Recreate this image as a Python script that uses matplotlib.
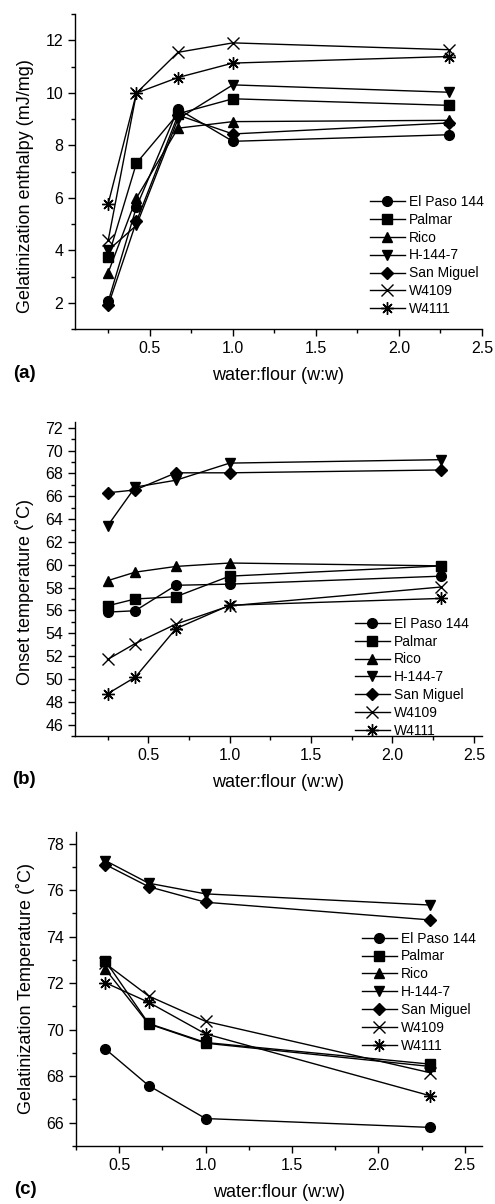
import matplotlib
matplotlib.use("Agg")
import matplotlib.pyplot as plt
from matplotlib.ticker import MultipleLocator

plt.rcParams.update({
    "font.family": ["Liberation Sans", "DejaVu Sans"],
    "font.size": 11.5,
    "axes.linewidth": 1.0,
    "xtick.direction": "out",
    "ytick.direction": "out",
    "xtick.major.size": 5,
    "ytick.major.size": 5,
    "xtick.minor.size": 3,
    "ytick.minor.size": 3,
    "xtick.major.width": 1.0,
    "ytick.major.width": 1.0,
    "xtick.minor.width": 1.0,
    "ytick.minor.width": 1.0,
})

varieties = ["El Paso 144", "Palmar", "Rico", "H-144-7", "San Miguel", "W4109", "W4111"]
markers = ["o", "s", "^", "v", "D", "x", (8, 2, 0)]
msizes = [7, 6.5, 7.5, 7.5, 6, 8, 9]

# (a) gelatinization enthalpy (mJ/mg)
x_a = [0.25, 0.42, 0.67, 1.0, 2.3]
enthalpy = {
    "El Paso 144": [2.05, 5.65, 9.38, 8.15, 8.40],
    "Palmar":      [3.75, 7.32, 9.20, 9.77, 9.52],
    "Rico":        [3.15, 5.99, 8.65, 8.90, 8.95],
    "H-144-7":     [4.00, 4.95, 9.00, 10.30, 10.02],
    "San Miguel":  [1.90, 5.10, 9.15, 8.43, 8.85],
    "W4109":       [4.38, 9.99, 11.54, 11.90, 11.64],
    "W4111":       [5.78, 9.99, 10.58, 11.13, 11.38],
}

# (b) onset temperature (C)
x_b = [0.25, 0.42, 0.67, 1.0, 2.3]
onset = {
    "El Paso 144": [55.85, 55.97, 58.2, 58.3, 59.0],
    "Palmar":      [56.4, 57.0, 57.2, 59.0, 59.9],
    "Rico":        [58.6, 59.35, 59.85, 60.15, 59.9],
    "H-144-7":     [63.4, 66.8, 67.4, 68.9, 69.2],
    "San Miguel":  [66.3, 66.55, 68.05, 68.05, 68.3],
    "W4109":       [51.7, 53.1, 54.8, 56.4, 58.05],
    "W4111":       [48.7, 50.15, 54.4, 56.45, 57.05],
}

# (c) gelatinization temperature (C)
x_c = [0.42, 0.67, 1.0, 2.3]
gel_temp = {
    "El Paso 144": [69.17, 67.6, 66.18, 65.8],
    "Palmar":      [72.96, 70.27, 69.45, 68.52],
    "Rico":        [72.6, 70.25, 69.42, 68.42],
    "H-144-7":     [77.27, 76.3, 75.84, 75.36],
    "San Miguel":  [77.1, 76.15, 75.48, 74.72],
    "W4109":       [72.85, 71.45, 70.36, 68.15],
    "W4111":       [72.02, 71.18, 69.82, 67.16],
}

W, H = 495, 1204
fig = plt.figure(figsize=(W / 100, H / 100), dpi=100)


def px_axes(left, right, top, bottom):
    return fig.add_axes([left / W, 1 - bottom / H, (right - left) / W, (bottom - top) / H])


def draw_panel(ax, x, data, xlim, ylim, ymaj, ylabel, ylab_y, leg_xy, tag):
    for name, m, ms in zip(varieties, markers, msizes):
        ax.plot(x, data[name], color="black", lw=1.0, marker=m, markersize=ms,
                markerfacecolor="black", markeredgecolor="black", markeredgewidth=1.0,
                label=name, clip_on=False)
    ax.set_xlim(*xlim)
    ax.set_ylim(*ylim)
    ax.xaxis.set_major_locator(MultipleLocator(0.5))
    ax.xaxis.set_minor_locator(MultipleLocator(0.25))
    ax.yaxis.set_major_locator(MultipleLocator(ymaj))
    ax.yaxis.set_minor_locator(MultipleLocator(ymaj / 2))
    for s in ("top", "right"):
        ax.spines[s].set_visible(False)
    ax.set_xlabel("water:flour (w:w)", fontsize=13)
    ax.xaxis.set_label_coords(0.5, -0.12)
    ax.set_ylabel(ylabel, fontsize=13)
    ax.yaxis.set_label_coords(-0.10, ylab_y)
    ax.legend(loc="upper left", bbox_to_anchor=leg_xy, frameon=False, fontsize=10,
              handlelength=2.5, handletextpad=0.3, labelspacing=0.28, borderpad=0,
              borderaxespad=0)
    ax.text(-0.125, -0.14, tag, transform=ax.transAxes, fontsize=13.5,
            fontweight="bold", ha="center", va="center")


ax_a = px_axes(75, 482, 14, 329)
draw_panel(ax_a, x_a, enthalpy, (0.05, 2.5), (1, 13), 2,
           "Gelatinization enthalpy (mJ/mg)", 0.454, (0.725, 0.426), "(a)")

ax_b = px_axes(75, 482, 422, 736)
draw_panel(ax_b, x_b, onset, (0.05, 2.55), (45, 72.5), 2,
           "Onset temperature (\u02daC)", 0.459, (0.688, 0.380), "(b)")

ax_c = px_axes(76, 482, 832, 1146)
draw_panel(ax_c, x_c, gel_temp, (0.25, 2.6), (65, 78.5), 2,
           "Gelatinization Temperature (\u02daC)", 0.5, (0.704, 0.683), "(c)")

fig.savefig("out.png", dpi=100)
